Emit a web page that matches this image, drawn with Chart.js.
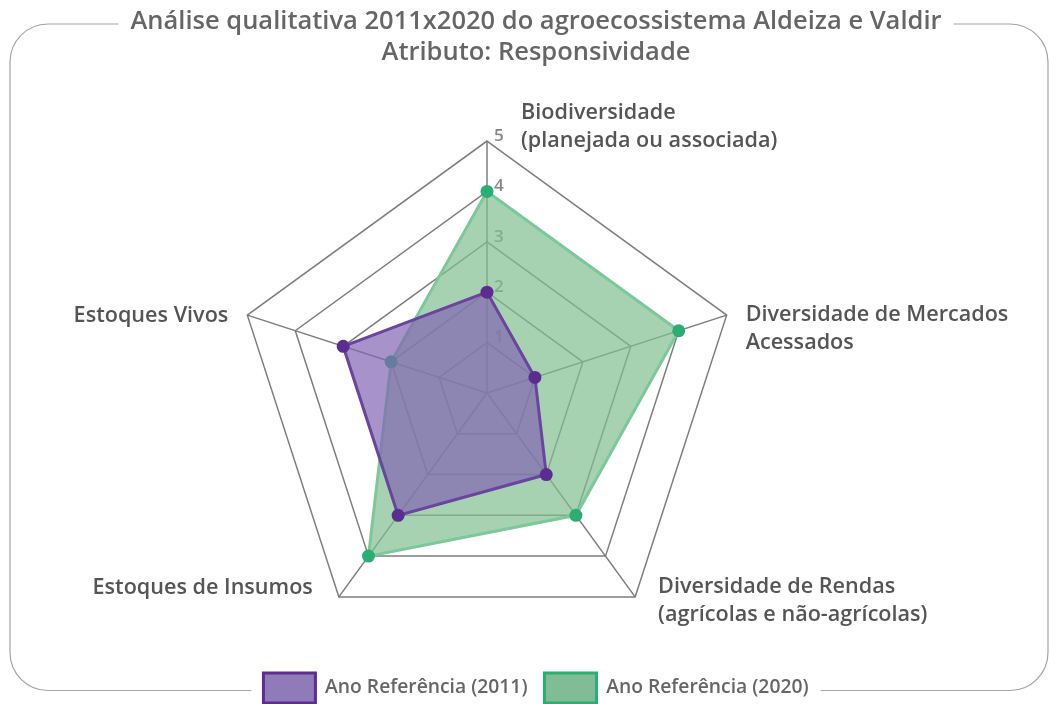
<!DOCTYPE html>
<html>
<head>
<meta charset="utf-8">
<title>Responsividade</title>
<script src="https://cdn.jsdelivr.net/npm/chart.js@4/dist/chart.umd.min.js"></script>
<style>
  html, body { margin: 0; padding: 0; background: #fff; }
  #wrap { width: 1049px; height: 704px; }
</style>
</head>
<body>
<div id="wrap"><canvas id="radar"></canvas></div>
<script>
// Data
var categories = [
  ["Biodiversidade", "(planejada ou associada)"],
  ["Diversidade de Mercados", "Acessados"],
  ["Diversidade de Rendas", "(agrícolas e não-agrícolas)"],
  ["Estoques de Insumos"],
  ["Estoques Vivos"]
];
var values2011 = [2, 1, 2, 3, 3];
var values2020 = [4, 4, 3, 4, 2];
var tickValues = [1, 2, 3, 4, 5];
var seriesNames = ["Ano Referência (2011)", "Ano Referência (2020)"];

// Layout of the radar
var radarRadius = 252;
var radarShiftX = -49;
// label placement relative to outer vertex: [align, dx, dy of first line]
var labelAnchors = [
  ["left", 34, -28],
  ["left", 19, 0],
  ["left", 23, -10],
  ["right", -26, -9],
  ["right", -19, 1]
];

var fontFamily = "'Open Sans', 'Noto Sans', sans-serif";
Chart.defaults.font.family = fontFamily;
Chart.defaults.font.weight = "600";

// Rounded frame with gaps for title and legend
var framePlugin = {
  id: "frame",
  beforeDraw: function(chart) {
    var ctx = chart.ctx;
    var x0 = 10, y0 = 24, x1 = 1048, y1 = 690.5, r = 38;
    ctx.save();
    ctx.strokeStyle = "#a3a3a3";
    ctx.lineWidth = 1.2;
    ctx.beginPath();
    ctx.moveTo(x0 + r, y0);
    ctx.lineTo(x1 - r, y0);
    ctx.arcTo(x1, y0, x1, y0 + r, r);
    ctx.lineTo(x1, y1 - r);
    ctx.arcTo(x1, y1, x1 - r, y1, r);
    ctx.lineTo(x0 + r, y1);
    ctx.arcTo(x0, y1, x0, y1 - r, r);
    ctx.lineTo(x0, y0 + r);
    ctx.arcTo(x0, y0, x0 + r, y0, r);
    ctx.stroke();

    // gap behind title
    var t = chart.titleBlock;
    ctx.font = "600 25.5px " + fontFamily;
    var tw = ctx.measureText(chart.options.plugins.title.text[0]).width;
    var tc = (t.left + t.right) / 2;
    ctx.fillStyle = "#fff";
    ctx.fillRect(tc - tw / 2 - 12, y0 - 4, tw + 24, 8);

    // gap behind legend
    var boxes = chart.legend.legendHitBoxes;
    if (boxes && boxes.length) {
      var first = boxes[0], last = boxes[boxes.length - 1];
      ctx.fillRect(first.left - 12, y1 - 4, last.left + last.width - first.left + 24, 8);
    }
    ctx.restore();
  }
};

// Tick numbers and axis labels
var labelPlugin = {
  id: "radarLabels",
  beforeDatasetsDraw: function(chart) {
    var scale = chart.scales.r;
    var ctx = chart.ctx;
    ctx.save();
    ctx.font = "600 17px " + fontFamily;
    ctx.fillStyle = "#858585";
    ctx.textAlign = "left";
    ctx.textBaseline = "middle";
    tickValues.forEach(function(v) {
      var d = scale.getDistanceFromCenterForValue(v);
      ctx.fillText(String(v), scale.xCenter + 7, scale.yCenter - d - 5);
    });
    ctx.restore();
  },
  afterDraw: function(chart) {
    var scale = chart.scales.r;
    var ctx = chart.ctx;
    ctx.save();
    ctx.font = "600 21.6px " + fontFamily;
    ctx.fillStyle = "#555";
    ctx.textBaseline = "middle";
    categories.forEach(function(lines, i) {
      var p = scale.getPointPosition(i, scale.drawingArea);
      var a = labelAnchors[i];
      ctx.textAlign = a[0];
      lines.forEach(function(line, j) {
        ctx.fillText(line, p.x + a[1], p.y + a[2] + j * 27.5);
      });
    });
    ctx.restore();
  }
};

var legendColors = [
  { fill: "#8f7bb8", stroke: "#5c2d91" },
  { fill: "#80bd96", stroke: "#2aae74" }
];

new Chart(document.getElementById("radar"), {
  type: "radar",
  data: {
    labels: categories,
    datasets: [
      {
        label: seriesNames[0],
        data: values2011,
        borderColor: "#6a449e",
        backgroundColor: "rgba(129, 101, 178, 0.7)",
        borderWidth: 3,
        pointBackgroundColor: "#5c2d91",
        pointBorderWidth: 0,
        pointRadius: 6.5,
        pointHoverRadius: 6.5
      },
      {
        label: seriesNames[1],
        data: values2020,
        borderColor: "#7bc999",
        backgroundColor: "rgba(128, 191, 145, 0.7)",
        borderWidth: 3,
        pointBackgroundColor: "#2aae74",
        pointBorderWidth: 0,
        pointRadius: 6.5,
        pointHoverRadius: 6.5
      }
    ]
  },
  options: {
    responsive: true,
    maintainAspectRatio: false,
    animation: false,
    layout: {
      padding: { left: 23, right: 0, top: 0, bottom: -9 }
    },
    plugins: {
      title: {
        display: true,
        text: ["Análise qualitativa 2011x2020 do agroecossistema Aldeiza e Valdir", "Atributo: Responsividade"],
        color: "#666",
        font: { size: 25.5, weight: "600", lineHeight: 1.22 },
        padding: { top: 6, bottom: 72.8 }
      },
      legend: {
        position: "bottom",
        labels: {
          color: "#666",
          font: { size: 19.3 },
          boxWidth: 52,
          boxHeight: 30,
          padding: 17,
          generateLabels: function(chart) {
            return chart.data.datasets.map(function(ds, i) {
              return {
                text: ds.label,
                fillStyle: legendColors[i].fill,
                strokeStyle: legendColors[i].stroke,
                lineWidth: 3,
                hidden: false,
                datasetIndex: i,
                fontColor: "#666"
              };
            });
          }
        }
      },
      tooltip: { enabled: false }
    },
    scales: {
      r: {
        min: 0,
        max: 5,
        ticks: { display: false, stepSize: 1 },
        pointLabels: { display: false },
        grid: { circular: false, color: "#7d7d7d", lineWidth: 1.5 },
        angleLines: { color: "#7d7d7d", lineWidth: 1.5 },
        afterFit: function(scale) {
          scale.drawingArea = radarRadius;
          scale.xCenter = Math.round(scale.left + scale.width / 2) + radarShiftX;
          scale.yCenter = scale.top + radarRadius;
        }
      }
    }
  },
  plugins: [framePlugin, labelPlugin]
});
</script>
</body>
</html>
